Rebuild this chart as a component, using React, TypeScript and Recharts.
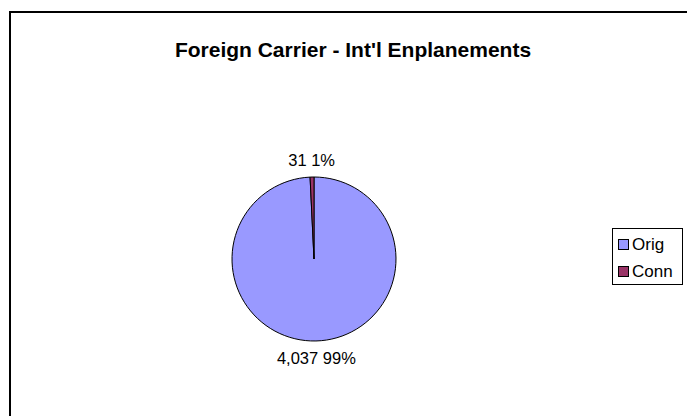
import React from "react";
import { PieChart, Pie, Cell, Legend } from "recharts";

const categories = ["Orig", "Conn"];
const values = [4037, 31];
const colors = ["#9999FF", "#993366"];
const title = "Foreign Carrier - Int'l Enplanements";

const data = categories.map((name, i) => ({ name, value: values[i] }));
const total = values.reduce((a, b) => a + b, 0);

const RAD = Math.PI / 180;
const FONT = "'Liberation Sans', Arial, sans-serif";

const renderLabel = (props: any) => {
  const { cx, cy, midAngle, outerRadius, value } = props;
  const r = outerRadius + 17;
  const x = cx + r * Math.cos(-midAngle * RAD);
  const y = cy + r * Math.sin(-midAngle * RAD);
  const pct = Math.round((value / total) * 100);
  return (
    <text
      x={x}
      y={y}
      textAnchor="middle"
      dominantBaseline="central"
      fontFamily={FONT}
      fontSize={16.5}
      fill="#000"
    >
      {`${value.toLocaleString("en-US")} ${pct}%`}
    </text>
  );
};

const LegendBox = () => (
  <div
    style={{
      position: "absolute",
      left: 612,
      top: 228,
      width: 71,
      height: 57,
      border: "1px solid #000",
      background: "#fff",
      fontFamily: FONT,
      fontSize: 17,
      boxSizing: "border-box",
      paddingTop: 2,
    }}
  >
    {categories.map((c, i) => (
      <div
        key={c}
        style={{
          display: "flex",
          alignItems: "center",
          height: 27,
          paddingLeft: 5,
        }}
      >
        <span
          style={{
            display: "inline-block",
            width: 9,
            height: 9,
            background: colors[i],
            border: "1px solid #000",
            marginRight: 3,
          }}
        />
        <span>{c}</span>
      </div>
    ))}
  </div>
);

export default function App() {
  return (
    <div
      style={{
        position: "fixed",
        left: 0,
        top: 0,
        width: 687,
        height: 416,
        overflow: "hidden",
        background: "#fff",
      }}
    >
      <div
        style={{
          position: "absolute",
          left: 9,
          top: 11,
          width: 800,
          height: 600,
          borderLeft: "2px solid #000",
          borderTop: "2px solid #000",
        }}
      />
      <div style={{ position: "absolute", left: 0, top: 0 }}>
        <PieChart
          width={687}
          height={416}
          margin={{ top: 0, right: 0, bottom: 0, left: 0 }}
        >
          <text
            x={353}
            y={57}
            textAnchor="middle"
            fontFamily={FONT}
            fontWeight="bold"
            fontSize={21}
            fill="#000"
          >
            {title}
          </text>
          <Pie
            data={data}
            dataKey="value"
            nameKey="name"
            cx={314}
            cy={259}
            outerRadius={82}
            startAngle={90}
            endAngle={-270}
            stroke="#000"
            strokeWidth={1}
            label={renderLabel}
            labelLine={false}
            isAnimationActive={false}
          >
            {data.map((d, i) => (
              <Cell key={d.name} fill={colors[i]} />
            ))}
          </Pie>
          <Legend content={() => null} />
        </PieChart>
      </div>
      <LegendBox />
    </div>
  );
}
